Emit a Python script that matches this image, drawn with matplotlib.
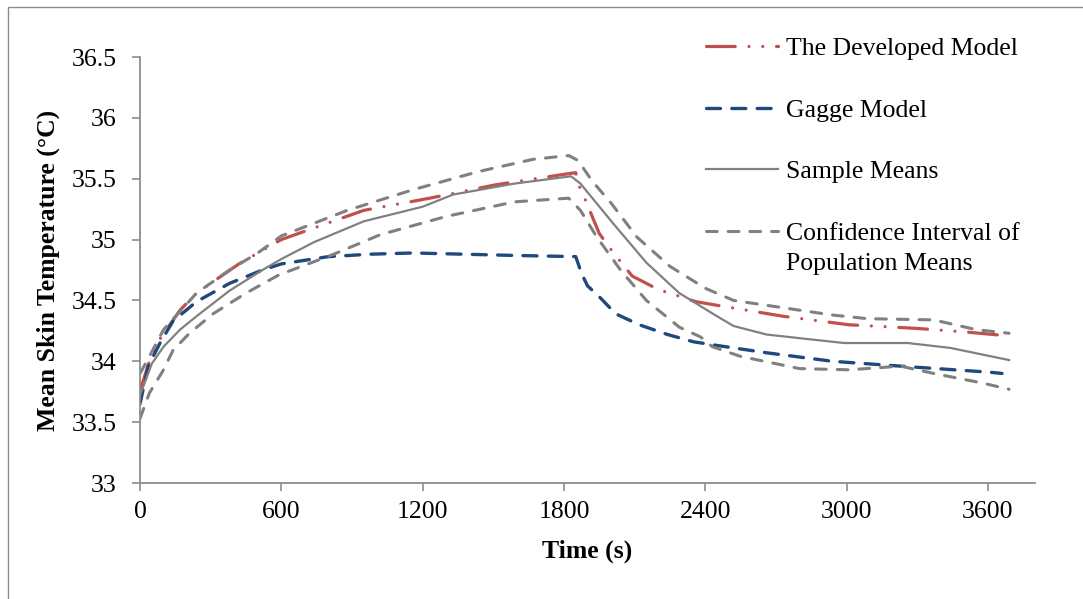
import matplotlib
matplotlib.use('Agg')
import matplotlib.pyplot as plt
from matplotlib.patches import Rectangle

# Developed model (red, dash-dot-dot)
dev_t = [0, 40, 80, 170, 240, 420, 600, 950, 1230, 1510, 1780, 1850, 1860, 1890, 1950,
         2010, 2090, 2200, 2360, 2450, 2730, 3010, 3300, 3510, 3680]
dev_y = [33.76, 34.0, 34.17, 34.42, 34.56, 34.80, 35.0, 35.24, 35.34, 35.45, 35.53, 35.55,
         35.46, 35.33, 35.05, 34.89, 34.70, 34.59, 34.49, 34.46, 34.37, 34.30, 34.27, 34.24, 34.21]

# Gagge model (blue dashed)
gag_t = [0, 35, 85, 140, 240, 380, 520, 600, 800, 980, 1160, 1580, 1850, 1875, 1900, 1950,
         2020, 2120, 2240, 2350, 2450, 2660, 2940, 3230, 3610, 3660]
gag_y = [33.65, 33.96, 34.15, 34.33, 34.49, 34.64, 34.75, 34.80, 34.86, 34.88, 34.89, 34.87,
         34.86, 34.72, 34.62, 34.53, 34.39, 34.30, 34.22, 34.16, 34.13, 34.07, 34.00, 33.96,
         33.91, 33.90]

# Sample means (grey solid)
smp_t = [0, 50, 100, 170, 240, 380, 520, 600, 740, 950, 1200, 1330, 1590, 1830, 1870, 2010,
         2150, 2290, 2450, 2520, 2660, 2800, 2990, 3260, 3440, 3690]
smp_y = [33.72, 33.98, 34.12, 34.26, 34.37, 34.58, 34.75, 34.84, 34.98, 35.15, 35.27, 35.37,
         35.46, 35.52, 35.46, 35.13, 34.81, 34.56, 34.37, 34.29, 34.22, 34.19, 34.15, 34.15,
         34.11, 34.01]

# Confidence interval, upper and lower (grey dashed)
ciu_t = [0, 40, 100, 240, 380, 500, 600, 880, 1160, 1440, 1670, 1820, 1860, 1920, 2000,
         2110, 2250, 2400, 2520, 2730, 2940, 3090, 3370, 3550, 3690]
ciu_y = [33.9, 34.04, 34.26, 34.56, 34.75, 34.89, 35.03, 35.24, 35.41, 35.56, 35.66, 35.69,
         35.65, 35.48, 35.30, 35.02, 34.78, 34.60, 34.50, 34.44, 34.38, 34.35, 34.34, 34.26, 34.23]
cil_t = [0, 40, 100, 140, 210, 310, 450, 590, 810, 1020, 1300, 1590, 1820, 1870, 1940,
         2040, 2150, 2290, 2380, 2430, 2550, 2800, 3010, 3230, 3370, 3580, 3690]
cil_y = [33.53, 33.74, 33.93, 34.09, 34.23, 34.39, 34.56, 34.71, 34.87, 35.04, 35.19, 35.31,
         35.34, 35.24, 35.02, 34.75, 34.50, 34.28, 34.20, 34.12, 34.04, 33.94, 33.93, 33.96,
         33.90, 33.82, 33.77]

x_ticks = [0, 600, 1200, 1800, 2400, 3000, 3600]
y_ticks = [33, 33.5, 34, 34.5, 35, 35.5, 36, 36.5]
y_tick_labels = ['33', '33.5', '34', '34.5', '35', '35.5', '36', '36.5']

red = '#C0504D'
blue = '#1F497D'
grey = '#808080'
axis_grey = '#8C8C8C'
fs = 18.5

plt.rcParams['font.family'] = ['Liberation Serif', 'DejaVu Serif']

fig = plt.figure(figsize=(10.83, 5.99), dpi=100)
ax = fig.add_axes([140/1083, 1 - 483/599, 895/1083, 426/599])

ax.plot(dev_t, dev_y, color=red, lw=2.3, dashes=(9, 4.3, 0.01, 4.3, 0.01, 4.3),
        dash_capstyle='round', label='The Developed Model')
ax.plot(gag_t, gag_y, color=blue, lw=2.4, dashes=(4.2, 3.4), dash_capstyle='round',
        label='Gagge Model')
ax.plot(smp_t, smp_y, color=grey, lw=1.6, label='Sample Means')
ax.plot(ciu_t, ciu_y, color=grey, lw=2.2, dashes=(3.5, 3.6), dash_capstyle='round',
        label='Confidence Interval of')
ax.plot(cil_t, cil_y, color=grey, lw=2.2, dashes=(3.5, 3.6), dash_capstyle='round')

ax.set_xlim(0, 3800)
ax.set_ylim(33, 36.5)
ax.set_xticks(x_ticks)
ax.set_xticklabels([str(t) for t in x_ticks])
ax.set_yticks(y_ticks)
ax.set_yticklabels(y_tick_labels)

for side in ['top', 'right']:
    ax.spines[side].set_visible(False)
for side in ['left', 'bottom']:
    ax.spines[side].set_color(axis_grey)
    ax.spines[side].set_linewidth(1.3)
ax.tick_params(axis='both', direction='out', length=6, width=1.2, color=axis_grey,
               labelsize=fs)
ax.tick_params(axis='y', pad=11)
ax.tick_params(axis='x', pad=7)

ax.set_xlabel('Time (s)', fontsize=fs, fontweight='bold', labelpad=12)
ax.set_ylabel('Mean Skin Temperature (°C)', fontsize=fs, fontweight='bold', labelpad=8)

leg = ax.legend(loc='upper left', bbox_to_anchor=(706/1083, 1 - 37/599),
                bbox_transform=fig.transFigure, frameon=False, fontsize=fs,
                handlelength=2.8, handletextpad=0.31, labelspacing=1.5,
                borderpad=0, borderaxespad=0)

# second line of the last legend entry, placed under its first line
fig.canvas.draw()
bb = leg.get_texts()[3].get_window_extent()
fig.text(bb.x0 / 1083, (bb.y0 - 30) / 599, 'Population Means', fontsize=fs,
         ha='left', va='bottom')

# outer border of the chart area
fig.patches.append(Rectangle((8/1083, -0.1), 1.2, 1.1 - 7/599, transform=fig.transFigure,
                             fill=False, edgecolor=axis_grey, lw=1))

fig.savefig('out.png', dpi=100)
